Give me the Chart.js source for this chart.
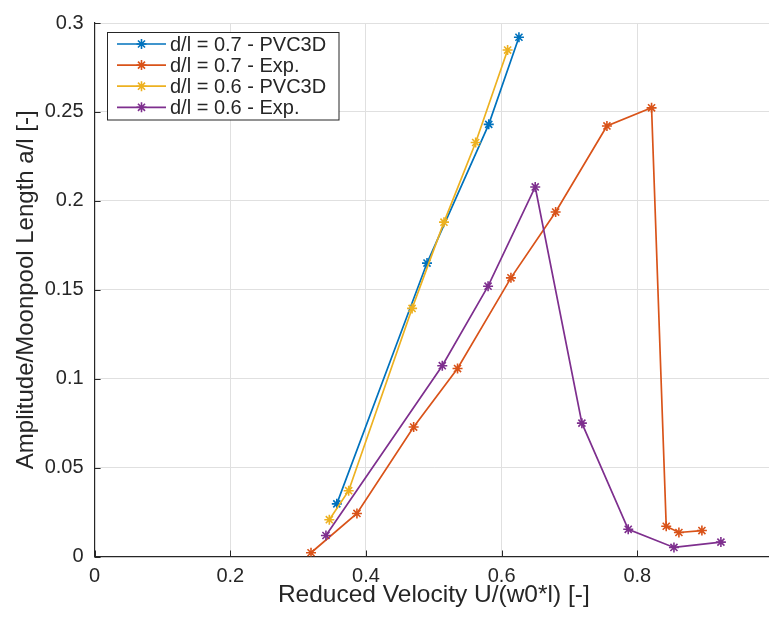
<!DOCTYPE html>
<html>
<head>
<meta charset="utf-8">
<script src="https://cdn.jsdelivr.net/npm/chart.js@4/dist/chart.umd.min.js"></script>
<style>
  html, body { margin: 0; padding: 0; background: #ffffff; overflow: hidden; }
  #wrap { width: 769px; height: 617px; overflow: hidden; }
  canvas { display: block; }
</style>
</head>
<body>
<div id="wrap"><canvas id="c" width="800" height="617"></canvas></div>
<script>
// Reduced velocity (x) and amplitude / moonpool length (y) for each case
const seriesLabels = ['d/l = 0.7 - PVC3D', 'd/l = 0.7 - Exp.', 'd/l = 0.6 - PVC3D', 'd/l = 0.6 - Exp.'];
const seriesColors = ['#0072BD', '#D95319', '#EDB120', '#7E2F8E'];

const pvc07X = [0.357, 0.490, 0.581, 0.6255];
const pvc07Y = [0.0296, 0.165, 0.243, 0.292];

const exp07X = [0.319, 0.3867, 0.4703, 0.535, 0.6137, 0.6796, 0.7552, 0.821, 0.8426, 0.8613, 0.8952];
const exp07Y = [0.0021, 0.0242, 0.0728, 0.1057, 0.1567, 0.1937, 0.2421, 0.2523, 0.017, 0.0135, 0.0146];

const pvc06X = [0.346, 0.3745, 0.468, 0.515, 0.5617, 0.6088];
const pvc06Y = [0.0207, 0.037, 0.1395, 0.188, 0.2328, 0.2848];

const exp06X = [0.341, 0.5125, 0.580, 0.6495, 0.7183, 0.7866, 0.854, 0.9232];
const exp06Y = [0.0118, 0.1073, 0.152, 0.2078, 0.075, 0.0153, 0.0051, 0.0081];

const xTicks = [0, 0.2, 0.4, 0.6, 0.8];
const xTickLabels = ['0', '0.2', '0.4', '0.6', '0.8'];
const yTicks = [0, 0.05, 0.1, 0.15, 0.2, 0.25, 0.3];
const yTickLabels = ['0', '0.05', '0.1', '0.15', '0.2', '0.25', '0.3'];

const xTitle = 'Reduced Velocity U/(w0*l) [-]';
const yTitle = 'Amplitude/Moonpool Length a/l [-]';

const FONT = "'Liberation Sans', Arial, Helvetica, sans-serif";
const AXIS_COLOR = '#262626';
const GRID_COLOR = '#e0e0e0';

function toPoints(xs, ys) {
  return xs.map((x, i) => ({ x: x, y: ys[i] }));
}

const seriesXY = [[pvc07X, pvc07Y], [exp07X, exp07Y], [pvc06X, pvc06Y], [exp06X, exp06Y]];

const datasets = seriesXY.map((xy, i) => ({
  label: seriesLabels[i],
  data: toPoints(xy[0], xy[1]),
  showLine: true,
  borderColor: seriesColors[i],
  backgroundColor: seriesColors[i],
  borderWidth: 1.7,
  pointStyle: 'star',
  pointRadius: 5,
  pointBorderWidth: 1.6,
  pointBorderColor: seriesColors[i],
  pointBackgroundColor: seriesColors[i],
  tension: 0,
  order: seriesXY.length - i
}));

// asterisk marker: horizontal, vertical and two diagonal strokes
function drawStar(ctx, x, y, r, color, lw) {
  ctx.save();
  ctx.strokeStyle = color;
  ctx.lineWidth = lw;
  ctx.beginPath();
  ctx.moveTo(x - r, y); ctx.lineTo(x + r, y);
  ctx.moveTo(x, y - r); ctx.lineTo(x, y + r);
  const d = r * Math.SQRT1_2;
  ctx.moveTo(x - d, y - d); ctx.lineTo(x + d, y + d);
  ctx.moveTo(x - d, y + d); ctx.lineTo(x + d, y - d);
  ctx.stroke();
  ctx.restore();
}

// inward tick marks on the left and bottom axes
const innerTicks = {
  id: 'innerTicks',
  afterDraw(chart) {
    const { ctx, chartArea, scales } = chart;
    const len = 6;
    ctx.save();
    ctx.strokeStyle = AXIS_COLOR;
    ctx.lineWidth = 1;
    ctx.beginPath();
    xTicks.forEach(v => {
      const px = Math.round(scales.x.getPixelForValue(v)) + 0.5;
      ctx.moveTo(px, chartArea.bottom);
      ctx.lineTo(px, chartArea.bottom - len);
    });
    yTicks.forEach(v => {
      const py = Math.round(scales.y.getPixelForValue(v)) + 0.5;
      ctx.moveTo(chartArea.left, py);
      ctx.lineTo(chartArea.left + len, py);
    });
    ctx.stroke();
    ctx.restore();
  }
};

// boxed legend in the upper-left corner of the plot
const boxLegend = {
  id: 'boxLegend',
  afterDraw(chart) {
    const ctx = chart.ctx;
    const bx = 107.5, by = 32.5, bw = 231.5, bh = 87.5;
    const rowY0 = 44, rowStep = 21.1;
    ctx.save();
    ctx.fillStyle = '#ffffff';
    ctx.fillRect(bx, by, bw, bh);
    ctx.strokeStyle = AXIS_COLOR;
    ctx.lineWidth = 1;
    ctx.strokeRect(bx, by, bw, bh);
    ctx.font = '20px ' + FONT;
    ctx.textBaseline = 'middle';
    ctx.textAlign = 'left';
    chart.data.datasets.forEach((ds, i) => {
      const y = rowY0 + i * rowStep;
      ctx.strokeStyle = ds.borderColor;
      ctx.lineWidth = ds.borderWidth;
      ctx.beginPath();
      ctx.moveTo(117, y);
      ctx.lineTo(166, y);
      ctx.stroke();
      drawStar(ctx, 141.5, y, ds.pointRadius, ds.borderColor, ds.pointBorderWidth);
      ctx.fillStyle = AXIS_COLOR;
      ctx.fillText(ds.label, 170, y + 1);
    });
    ctx.restore();
  }
};

new Chart(document.getElementById('c'), {
  type: 'scatter',
  data: { datasets: datasets },
  options: {
    responsive: false,
    animation: false,
    devicePixelRatio: 1,
    layout: { padding: { top: 18, right: 27, left: 0, bottom: 0 } },
    plugins: {
      legend: { display: false },
      tooltip: { enabled: false }
    },
    scales: {
      x: {
        type: 'linear',
        min: 0,
        max: 1,
        afterBuildTicks: (scale) => { scale.ticks = xTicks.map(v => ({ value: v })); },
        afterFit: (scale) => { scale.height = 60.5; },
        grid: { color: GRID_COLOR, lineWidth: 1, drawTicks: false },
        border: { display: true, color: AXIS_COLOR, width: 1.2 },
        ticks: {
          padding: 8,
          color: AXIS_COLOR,
          font: { family: FONT, size: 20, lineHeight: 1.2 },
          maxRotation: 0,
          autoSkip: false,
          callback: (v, i) => xTickLabels[i]
        },
        title: {
          display: true,
          text: xTitle,
          color: AXIS_COLOR,
          font: { family: FONT, size: 24.5, lineHeight: 1 },
          padding: { top: 0, bottom: 10 }
        }
      },
      y: {
        type: 'linear',
        min: 0,
        max: 0.3,
        afterBuildTicks: (scale) => { scale.ticks = yTicks.map(v => ({ value: v })); },
        afterFit: (scale) => { scale.width = 94.6; },
        grid: { color: GRID_COLOR, lineWidth: 1, drawTicks: false },
        border: { display: true, color: AXIS_COLOR, width: 1.2 },
        ticks: {
          padding: 11,
          color: AXIS_COLOR,
          font: { family: FONT, size: 20, lineHeight: 1.2 },
          autoSkip: false,
          callback: (v, i) => yTickLabels[i]
        },
        title: {
          display: true,
          text: yTitle,
          color: AXIS_COLOR,
          font: { family: FONT, size: 24, lineHeight: 1 },
          padding: { top: 14, bottom: 0 }
        }
      }
    }
  },
  plugins: [innerTicks, boxLegend]
});
</script>
</body>
</html>
